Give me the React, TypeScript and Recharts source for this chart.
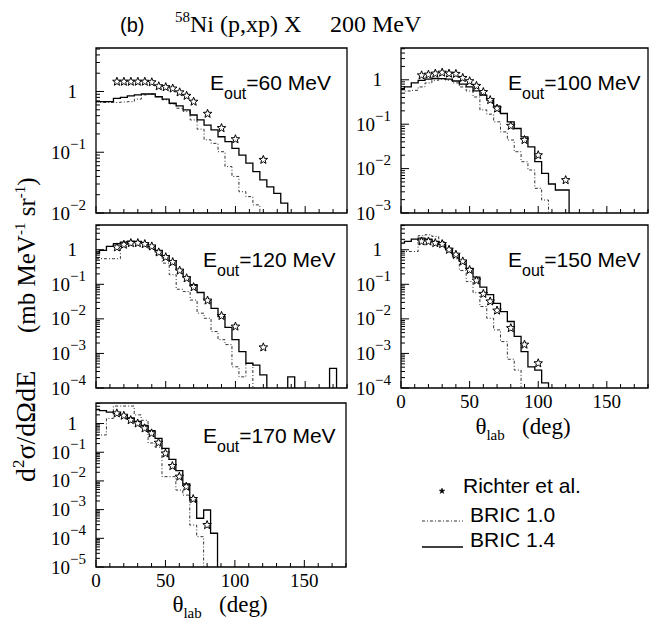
import React from 'react';
import { ComposedChart, Line, Scatter, XAxis, YAxis, ReferenceArea } from 'recharts';

// value used for bins that fall below the visible range of a panel
const F = 1e-9;
const YMAX = 5.2;

// histogram bin centres (deg), 5 deg wide bins
const binAngles = [0, 5, 10, 15, 20, 25, 30, 35, 40, 45, 50, 55, 60, 65, 70, 75, 80, 85, 90, 95, 100, 105, 110, 115, 120, 125, 130, 135, 140, 145, 150, 155, 160, 165, 170, 175];

// ---- E_out = 60 MeV
const solid60 = [0.68, 0.68, 0.68, 0.77, 0.8, 0.845, 0.88, 0.91, 0.91, 0.82, 0.75, 0.64, 0.58, 0.5, 0.41, 0.34, 0.28, 0.233, 0.18, 0.15, 0.116, 0.09, 0.066, 0.048, 0.035, 0.027, 0.021, 0.0145, F];
const dash60 = [0.68, 0.66, 0.66, 0.66, 0.67, 0.68, 0.75, 0.88, 0.91, 0.82, 0.73, 0.625, 0.53, 0.47, 0.34, 0.24, 0.16, 0.14, 0.102, 0.058, 0.04, 0.0224, 0.0186, 0.0136, F];
const starAngles60 = [15, 20, 25, 30, 35, 40, 45, 50, 55, 60, 65, 70, 80, 90, 100, 120];
const stars60 = [1.45, 1.45, 1.45, 1.45, 1.45, 1.42, 1.22, 1.18, 1.12, 0.97, 0.85, 0.68, 0.43, 0.25, 0.164, 0.075];

// ---- E_out = 100 MeV
const solid100 = [0.63, 0.69, 0.85, 0.975, 1.04, 1.07, 1.06, 1.03, 0.94, 0.8, 0.69, 0.56, 0.45, 0.35, 0.254, 0.174, 0.113, 0.08, 0.052, 0.031, 0.0143, 0.0078, 0.0045, 0.0033, 0.0033, F];
const dash100 = [0.6, 0.56, 0.58, 0.69, 0.85, 0.975, 1.03, 0.975, 0.85, 0.69, 0.56, 0.41, 0.21, 0.168, 0.113, 0.067, 0.044, 0.024, 0.0143, 0.0093, 0.0036, 0.00196, F];
const starAngles100 = [15, 20, 25, 30, 35, 40, 45, 50, 55, 60, 65, 70, 80, 90, 100, 120];
const stars100 = [1.26, 1.31, 1.38, 1.45, 1.38, 1.36, 1.1, 0.93, 0.73, 0.53, 0.35, 0.225, 0.092, 0.044, 0.02, 0.0055];

// ---- E_out = 120 MeV
const solid120 = [0.8, 0.955, 1.25, 1.49, 1.67, 1.78, 1.74, 1.56, 1.25, 0.955, 0.68, 0.46, 0.26, 0.165, 0.097, 0.058, 0.035, 0.02, 0.0117, 0.0057, 0.0025, 0.00113, 0.00052, 0.00046, 0.00024, F, F, F, 0.00021, F, F, F, F, F, 0.00037, F];
const dash120 = [0.55, 0.55, 0.55, 0.55, 1.25, 1.56, 1.63, 1.46, 1.04, 0.72, 0.41, 0.19, 0.072, 0.062, 0.035, 0.0146, 0.0104, 0.0043, 0.0025, 0.0018, 0.00041, 0.00021, 0.00052, F];
const starAngles120 = [15, 20, 25, 30, 35, 40, 45, 50, 55, 60, 65, 70, 80, 90, 100, 120];
const stars120 = [1.17, 1.4, 1.56, 1.56, 1.46, 1.25, 0.84, 0.61, 0.44, 0.25, 0.15, 0.083, 0.034, 0.0122, 0.006, 0.0015];

// ---- E_out = 150 MeV
const solid150 = [1.56, 1.74, 2.04, 2.18, 2.04, 1.74, 1.4, 1.0, 0.72, 0.46, 0.29, 0.161, 0.083, 0.05, 0.028, 0.0163, 0.0084, 0.0031, 0.00113, 0.00041, 0.00033, 0.00014, F];
const dash150 = [0.89, 0.89, 0.89, 2.55, 2.72, 2.43, 1.74, 1.12, 0.55, 0.25, 0.12, 0.057, 0.0228, 0.0104, 0.0048, 0.0022, 0.00068, 0.00033, F];
const starAngles150 = [15, 20, 25, 30, 35, 40, 45, 50, 55, 60, 65, 70, 80, 90, 100];
const stars150 = [1.74, 1.74, 1.56, 1.46, 1.0, 0.72, 0.46, 0.26, 0.129, 0.053, 0.032, 0.0174, 0.0054, 0.0018, 0.00052];

// ---- E_out = 170 MeV
const solid170 = [3.12, 2.8, 2.52, 2.26, 1.93, 1.56, 1.19, 0.86, 0.56, 0.305, 0.136, 0.056, 0.0228, 0.0078, 0.0022, 0.0005, 0.00097, 0.00015, F];
const dash170 = [0.4, 0.4, 1.51, 4.07, 4.07, 4.07, 2.0, 1.3, 0.21, 0.15, 0.0141, 0.0141, 0.0048, 0.0032, 0.00029, 0.000114, F];
const starAngles170 = [15, 20, 25, 30, 35, 40, 45, 50, 55, 60, 65, 70, 80];
const stars170 = [2.26, 1.88, 1.32, 1.01, 0.68, 0.455, 0.215, 0.091, 0.033, 0.0141, 0.0063, 0.00234, 0.00029];

// ---- axis ticks
const xTicks = [0, 10, 20, 30, 40, 50, 60, 70, 80, 90, 100, 110, 120, 130, 140, 150, 160, 170, 180];
const xLabelTicks = [0, 50, 100, 150];
const yDecades = [1e-5, 1e-4, 1e-3, 1e-2, 1e-1, 1];
const yMinorSteps = [2, 3, 4, 5, 6, 7, 8, 9];

const SERIF = '"Liberation Serif", "DejaVu Serif", serif';
const SANS = '"Liberation Sans", Arial, sans-serif';

function buildYTicks(ymin: number, ymax: number) {
  const out: number[] = [];
  yDecades.forEach((d) => {
    if (d >= ymin * 0.999 && d <= ymax) out.push(d);
    yMinorSteps.forEach((m) => {
      const v = d * m;
      if (v >= ymin && v <= ymax) out.push(v);
    });
  });
  return out.sort((a, b) => a - b);
}

function starPoints(cx: number, cy: number, R: number, r: number) {
  const pts: string[] = [];
  for (let i = 0; i < 10; i++) {
    const a = -Math.PI / 2 + (i * Math.PI) / 5;
    const rad = i % 2 === 0 ? R : r;
    pts.push(`${(cx + rad * Math.cos(a)).toFixed(2)},${(cy + rad * Math.sin(a)).toFixed(2)}`);
  }
  return pts.join(' ');
}

const renderStar = (props: any) => {
  const { cx, cy } = props;
  if (cx == null || cy == null || isNaN(cx) || isNaN(cy)) return <g />;
  return <polygon points={starPoints(cx, cy, 4.5, 1.9)} fill="#fff" stroke="#000" strokeWidth={1} />;
};

const YTick = (props: any) => {
  const { x, y, payload } = props;
  const v = payload.value as number;
  const lg = Math.log10(v);
  const e = Math.round(lg);
  const major = Math.abs(lg - e) < 1e-6;
  const len = major ? 8 : 4;
  return (
    <g>
      <line x1={x} y1={y} x2={x + len} y2={y} stroke="#000" strokeWidth={1} />
      {major && e === 0 && (
        <text x={x - 19} y={y + 6.5} textAnchor="end" fontFamily={SERIF} fontSize={19} fill="#000">
          1
        </text>
      )}
      {major && e !== 0 && (
        <text x={x - 10} y={y + 6.5} textAnchor="end" fontFamily={SERIF} fontSize={19} fill="#000">
          10
          <tspan dy={-10} fontSize={15}>
            {'\u2212' + String(-e)}
          </tspan>
        </text>
      )}
    </g>
  );
};

const XTick = (props: any) => {
  const { x, y, payload, show } = props;
  const v = payload.value as number;
  const major = xLabelTicks.indexOf(v) >= 0;
  return (
    <g>
      <line x1={x} y1={y} x2={x} y2={y - (major ? 7 : 4)} stroke="#000" strokeWidth={1} />
      {show && major && (
        <text x={x} y={y + 20} textAnchor="middle" fontFamily={SERIF} fontSize={19} fill="#000">
          {v}
        </text>
      )}
    </g>
  );
};

type PanelCfg = {
  key: string;
  label: string;
  left: number;
  top: number;
  w: number;
  h: number;
  ymin: number;
  solid: number[];
  dash: number[];
  starAngles: number[];
  stars: number[];
  xLabels: boolean;
};

const panels: PanelCfg[] = [
  { key: 'p60', label: '=60 MeV', left: 96, top: 48, w: 251, h: 165, ymin: 1e-2, solid: solid60, dash: dash60, starAngles: starAngles60, stars: stars60, xLabels: false },
  { key: 'p100', label: '=100 MeV', left: 401, top: 48, w: 247, h: 165, ymin: 1e-3, solid: solid100, dash: dash100, starAngles: starAngles100, stars: stars100, xLabels: false },
  { key: 'p120', label: '=120 MeV', left: 96, top: 225, w: 251, h: 163, ymin: 1e-4, solid: solid120, dash: dash120, starAngles: starAngles120, stars: stars120, xLabels: false },
  { key: 'p150', label: '=150 MeV', left: 401, top: 225, w: 247, h: 163, ymin: 1e-4, solid: solid150, dash: dash150, starAngles: starAngles150, stars: stars150, xLabels: true },
  { key: 'p170', label: '=170 MeV', left: 96, top: 403, w: 250, h: 164, ymin: 1e-5, solid: solid170, dash: dash170, starAngles: starAngles170, stars: stars170, xLabels: true },
];

const labelPos: Record<string, [number, number]> = {
  p60: [210, 90],
  p100: [508, 90],
  p120: [203, 267],
  p150: [508, 267],
  p170: [203, 443],
};

function Panel({ p }: { p: PanelCfg }) {
  const YW = 60;
  const XH = 30;
  const MT = 2;
  const MR = 3;
  const solidData = p.solid.map((v, i) => ({ x: binAngles[i], y: v }));
  const dashData = p.dash.map((v, i) => ({ x: binAngles[i], y: v }));
  const starData = p.stars.map((v, i) => ({ x: p.starAngles[i], y: v }));
  const yTicks = buildYTicks(p.ymin, YMAX);
  return (
    <div style={{ position: 'absolute', left: p.left - YW, top: p.top - MT }}>
      <ComposedChart width={YW + p.w + MR} height={MT + p.h + XH} margin={{ top: MT, right: MR, bottom: 0, left: 0 }}>
        <XAxis
          type="number"
          dataKey="x"
          domain={[0, 180]}
          ticks={xTicks}
          interval={0}
          allowDataOverflow
          tickSize={0}
          tickMargin={0}
          axisLine={false}
          tickLine={false}
          height={XH}
          tick={(tp: any) => <XTick {...tp} show={p.xLabels} />}
        />
        <YAxis
          type="number"
          scale="log"
          domain={[p.ymin, YMAX]}
          allowDataOverflow
          ticks={yTicks}
          interval={0}
          width={YW}
          tickSize={0}
          tickMargin={0}
          axisLine={false}
          tickLine={false}
          tick={(tp: any) => <YTick {...tp} />}
        />
        <ReferenceArea x1={0} x2={180} y1={p.ymin} y2={YMAX} fill="none" fillOpacity={0} stroke="#000" strokeWidth={1.3} ifOverflow="visible" />
        <Line data={dashData} dataKey="y" type="step" stroke="#333" strokeWidth={1} strokeDasharray="3 2 1 2" dot={false} isAnimationActive={false} />
        <Line data={solidData} dataKey="y" type="step" stroke="#000" strokeWidth={1.3} dot={false} isAnimationActive={false} />
        <Scatter data={starData} dataKey="y" shape={renderStar} isAnimationActive={false} />
      </ComposedChart>
    </div>
  );
}

export default function App() {
  return (
    <div style={{ position: 'absolute', left: 0, top: 0, width: 651, height: 626, background: '#fff', overflow: 'hidden' }}>
      {panels.map((p) => (
        <Panel key={p.key} p={p} />
      ))}
      <svg width={651} height={626} style={{ position: 'absolute', left: 0, top: 0, pointerEvents: 'none' }}>
        {/* title */}
        <text x={120} y={32} fontFamily={SANS} fontSize={20} fill="#000">
          (b)
        </text>
        <text x={175} y={32} fontFamily={SERIF} fontSize={24} fill="#000">
          <tspan fontSize={15} dy={-10}>
            58
          </tspan>
          <tspan dy={10}>Ni (p,xp) X</tspan>
        </text>
        <text x={330} y={32} fontFamily={SERIF} fontSize={24} fill="#000">
          200 MeV
        </text>

        {/* E_out labels */}
        {panels.map((p) => {
          const [lx, ly] = labelPos[p.key];
          return (
            <text key={p.key} x={lx} y={ly} fontFamily={SANS} fontSize={21} fill="#000">
              E
              <tspan dy={9} fontSize={16}>
                out
              </tspan>
              <tspan dy={-9}>{p.label}</tspan>
            </text>
          );
        })}

        {/* y-axis title, in two pieces */}
        <text transform="translate(35,482) rotate(-90)" textAnchor="start" fontFamily={SERIF} fontSize={28} fill="#000">
          d
          <tspan dy={-11} fontSize={17}>
            2
          </tspan>
          <tspan dy={11}>{'\u03c3/d\u03a9dE'}</tspan>
        </text>
        <text transform="translate(35,333) rotate(-90)" textAnchor="start" fontFamily={SERIF} fontSize={25} fill="#000">
          (mb MeV
          <tspan dy={-10} fontSize={15}>
            -1
          </tspan>
          <tspan dy={10}>{'\u00a0sr'}</tspan>
          <tspan dy={-10} fontSize={15}>
            -1
          </tspan>
          <tspan dy={10}>)</tspan>
        </text>

        {/* x-axis titles */}
        {[
          [523, 434],
          [220, 612],
        ].map(([cx, by], i) => (
          <text key={i} x={cx} y={by} textAnchor="middle" fontFamily={SERIF} fontSize={23} fill="#000">
            {'\u03b8'}
            <tspan dy={6} fontSize={15}>
              lab
            </tspan>
            <tspan dy={-6}>{'\u00a0\u00a0\u00a0(deg)'}</tspan>
          </text>
        ))}

        {/* legend */}
        <polygon points={starPoints(442, 491, 3, 1.2)} fill="#000" stroke="#000" strokeWidth={0.5} />
        <text x={463} y={493} fontFamily={SANS} fontSize={21} fill="#000">
          Richter et al.
        </text>
        <line x1={422} y1={521} x2={463} y2={521} stroke="#333" strokeWidth={1} strokeDasharray="3 2 1 2" />
        <text x={470} y={522} fontFamily={SANS} fontSize={21} fill="#000">
          BRIC 1.0
        </text>
        <line x1={422} y1={547} x2={463} y2={547} stroke="#000" strokeWidth={1.3} />
        <text x={470} y={547} fontFamily={SANS} fontSize={21} fill="#000">
          BRIC 1.4
        </text>
      </svg>
    </div>
  );
}
